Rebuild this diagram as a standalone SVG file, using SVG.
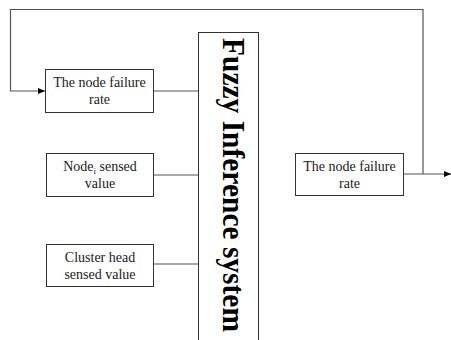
<svg xmlns="http://www.w3.org/2000/svg" width="451" height="340" viewBox="0 0 451 340">
<style>
.box{fill:#fff;stroke:#333;stroke-width:1}
.lbl{font-family:"Liberation Serif","Times New Roman",serif;font-size:14px;fill:#1a1a1a;text-anchor:middle}
.ln{fill:none;stroke:#555;stroke-width:1.2}
.big{font-family:"Liberation Serif","Times New Roman",serif;font-size:31px;font-weight:bold;fill:#000}
</style>
<defs>
<marker id="ah" markerWidth="8" markerHeight="6" refX="7" refY="3" orient="auto" markerUnits="userSpaceOnUse">
<path d="M0,0 L7,3 L0,6 Z" fill="#000"/>
</marker>
</defs>
<rect width="451" height="340" fill="#fff"/>
<g id="connectors">
<path class="ln" d="M423,174 V9.5 H10.5 V91 H45" marker-end="url(#ah)"/>
<path class="ln" d="M153,91 H198"/>
<path class="ln" d="M153,175 H198"/>
<path class="ln" d="M153,264 H198"/>
<path class="ln" d="M403,174 H451" marker-end="url(#ah)"/>
</g>
<g id="fis">
<rect class="box" x="198.5" y="32.5" width="60" height="310"/>
<text class="big" transform="translate(223,38) rotate(90)" textLength="294" lengthAdjust="spacingAndGlyphs">Fuzzy Inference system</text>
</g>
<g id="in1">
<rect class="box" x="45.5" y="69.5" width="108" height="43"/>
<text class="lbl" x="99.5" y="87">The node failure</text>
<text class="lbl" x="99.5" y="104">rate</text>
</g>
<g id="in2">
<rect class="box" x="46.5" y="153.5" width="107" height="43"/>
<text class="lbl" x="100" y="171">Node<tspan font-size="9" dy="3">i</tspan><tspan dy="-3"> sensed</tspan></text>
<text class="lbl" x="100" y="188">value</text>
</g>
<g id="in3">
<rect class="box" x="46.5" y="244.5" width="107" height="42"/>
<text class="lbl" x="100" y="262">Cluster head</text>
<text class="lbl" x="100" y="279">sensed value</text>
</g>
<g id="out">
<rect class="box" x="295.5" y="153.5" width="108" height="42"/>
<text class="lbl" x="349.5" y="171">The node failure</text>
<text class="lbl" x="349.5" y="188">rate</text>
</g>
</svg>
